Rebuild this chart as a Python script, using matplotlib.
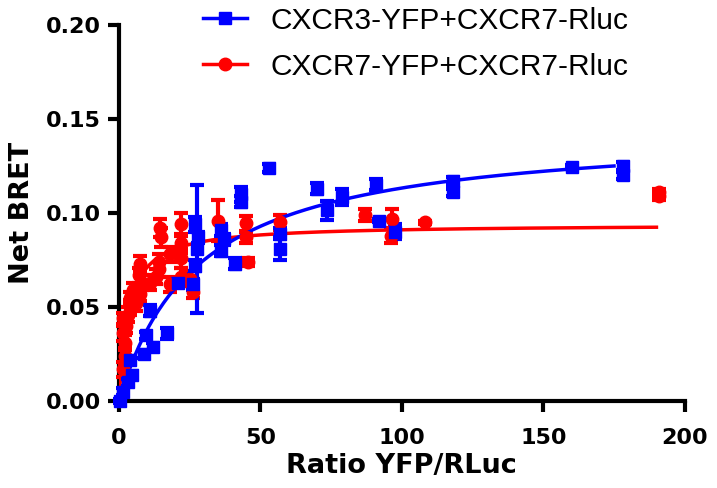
import numpy as np
import matplotlib
matplotlib.use('Agg')
from matplotlib import pyplot as plt

# CXCR3-YFP + CXCR7-Rluc (blue)
blue_x = [0.5, 1.5, 3, 4.5, 4, 9, 12, 9.5, 17, 11, 21, 27.5, 27, 28, 27, 26,
          36, 37, 36, 41, 43, 43, 53, 57, 57, 70, 73.5, 79, 91, 92, 97.5,
          118, 118, 160, 178, 178]
blue_y = [0.000, 0.005, 0.010, 0.014, 0.022, 0.025, 0.029, 0.035, 0.036, 0.048,
          0.063, 0.081, 0.094, 0.087, 0.072, 0.062,
          0.091, 0.086, 0.080, 0.073, 0.110, 0.106, 0.124, 0.089, 0.081,
          0.113, 0.1015, 0.1085, 0.115, 0.096, 0.090,
          0.117, 0.111, 0.1245, 0.125, 0.120]
blue_err = [0.001, 0.002, 0.002, 0.002, 0.002, 0.002, 0.002, 0.002, 0.003, 0.003,
            0.002, 0.034, 0.004, 0.003, 0.003, 0.003,
            0.003, 0.003, 0.003, 0.003, 0.004, 0.003, 0.002, 0.003, 0.006,
            0.003, 0.005, 0.004, 0.003, 0.001, 0.004,
            0.002, 0.002, 0.001, 0.002, 0.002]

# CXCR7-YFP + CXCR7-Rluc (red)
red_x = [1.5, 2, 2, 1.5, 2.5, 1.5, 3, 4, 4, 6, 7.5, 5, 8, 7, 7.5, 11, 13, 14,
         14, 15, 14.5, 18, 18, 22, 22, 22, 22, 25, 26, 35, 45, 45, 45.5, 57,
         87, 96.5, 96, 108, 191, 191]
red_y = [0.017, 0.024, 0.031, 0.036, 0.040, 0.044, 0.046, 0.050, 0.055, 0.052,
         0.057, 0.059, 0.063, 0.067, 0.073, 0.063, 0.066, 0.070, 0.074, 0.087,
         0.092, 0.062, 0.078, 0.066, 0.076, 0.084, 0.094, 0.065, 0.058, 0.096,
         0.0945, 0.087, 0.074, 0.095, 0.099, 0.097, 0.088, 0.095, 0.111, 0.109]
red_err = [0.004, 0.004, 0.004, 0.004, 0.004, 0.003, 0.004, 0.004, 0.003, 0.004,
           0.004, 0.004, 0.004, 0.004, 0.004, 0.004, 0.004, 0.004, 0.004, 0.005,
           0.005, 0.004, 0.004, 0.005, 0.005, 0.005, 0.006, 0.004, 0.003, 0.011,
           0.004, 0.003, 0.002, 0.004, 0.003, 0.005, 0.004, 0.001, 0.002, 0.002]

# one-site hyperbola fits: Bmax, Kd, x range
blue_fit = (0.145, 28.0, 175)
red_fit = (0.094, 3.2, 190)

labels = ['CXCR3-YFP+CXCR7-Rluc', 'CXCR7-YFP+CXCR7-Rluc']

fig = plt.figure(figsize=(7.17, 4.88), dpi=100)
ax = fig.add_axes([0.166, 0.178, 0.789, 0.771])


def draw(xs, ys, es, fit, color, marker, ms, label):
    ax.errorbar(xs, ys, yerr=es, fmt=marker, color=color, ms=ms, elinewidth=3,
                capsize=5, capthick=3, clip_on=False, zorder=3)
    bmax, kd, xmax = fit
    xc = np.linspace(0, xmax, 300)
    ax.plot(xc, bmax * xc / (kd + xc), color=color, lw=2.5, zorder=3)
    # legend handle only
    ax.plot([], [], color=color, lw=2.5, marker=marker, ms=ms, label=label)


draw(red_x, red_y, red_err, red_fit, '#ff0000', 'o', 9, labels[1])
draw(blue_x, blue_y, blue_err, blue_fit, '#0000ff', 's', 8.5, labels[0])

ax.set_xlim(0, 200)
ax.set_ylim(0, 0.20)
ax.set_xticks([0, 50, 100, 150, 200])
ax.set_yticks([0, 0.05, 0.10, 0.15, 0.20])
ax.set_yticklabels(['0.00', '0.05', '0.10', '0.15', '0.20'])

for s in ['top', 'right']:
    ax.spines[s].set_visible(False)
for s in ['left', 'bottom']:
    ax.spines[s].set_linewidth(3)
ax.tick_params(width=3, length=8, labelsize=16)
ax.tick_params(axis='x', pad=11)
ax.tick_params(axis='y', pad=5)
for t in ax.get_xticklabels() + ax.get_yticklabels():
    t.set_fontweight('bold')

ax.set_xlabel('Ratio YFP/RLuc', fontsize=19.5, fontweight='bold', labelpad=4)
ax.set_ylabel('Net BRET', fontsize=19.5, fontweight='bold', labelpad=8)

h, l = ax.get_legend_handles_labels()
leg = ax.legend(h[::-1], l[::-1], loc='upper left', bbox_to_anchor=(0.128, 1.08),
                frameon=False, prop={'family': 'Liberation Sans', 'size': 21.5},
                handlelength=1.45, handletextpad=0.8, labelspacing=0.6,
                borderaxespad=0)

fig.savefig('out.png', dpi=100)
